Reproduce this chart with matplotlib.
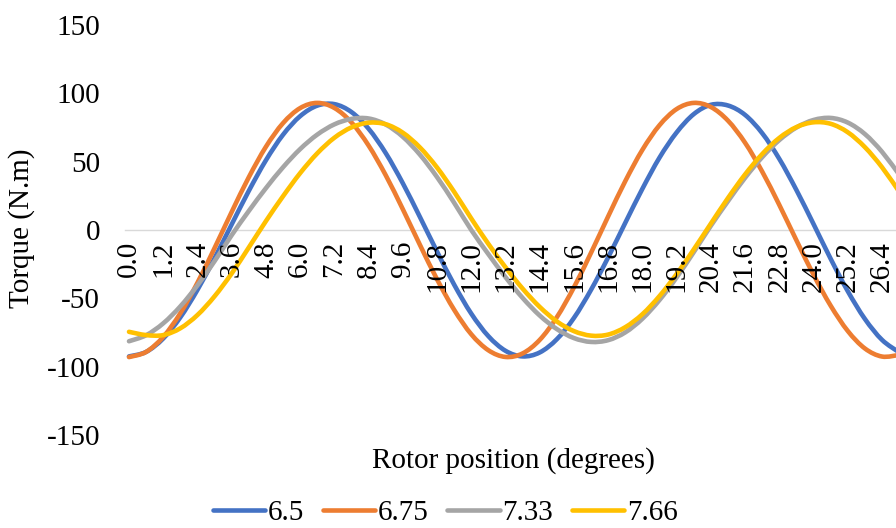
import matplotlib
matplotlib.use("Agg")
import matplotlib.pyplot as plt
from matplotlib.path import Path
from matplotlib.patches import PathPatch
from matplotlib.lines import Line2D

plt.rcParams['font.family'] = ['Liberation Serif', 'DejaVu Serif']
plt.rcParams['axes.unicode_minus'] = False

# rotor position (degrees), one category every 0.6
positions = [0.0, 0.6, 1.2, 1.8, 2.4, 3.0, 3.6, 4.2, 4.8, 5.4, 6.0, 6.6, 7.2, 7.8,
             8.4, 9.0, 9.6, 10.2, 10.8, 11.4, 12.0, 12.6, 13.2, 13.8, 14.4, 15.0,
             15.6, 16.2, 16.8, 17.4, 18.0, 18.6, 19.2, 19.8, 20.4, 21.0, 21.6,
             22.2, 22.8, 23.4, 24.0, 24.6, 25.2, 25.8, 26.4, 27.0]

t_650 = [-92.5, -89.2, -79.4, -63.9, -43.8, -20.6, 4.1, 28.6, 51.0, 69.7, 83.3, 91.0,
         92.1, 86.3, 74.1, 56.3, 34.2, 9.5, -15.8, -40.0, -61.2, -77.7, -88.4, -92.5,
         -89.6, -79.9, -64.3, -43.7, -20.0, 5.3, 30.2, 53.0, 71.4, 84.8, 91.6, 91.1,
         84.2, 70.8, 52.0, 29.2, 4.3, -21.1, -44.8, -65.1, -80.4, -89.5]

t_675 = [-93.0, -89.2, -78.2, -60.9, -38.6, -13.2, 13.2, 38.6, 60.9, 78.2, 89.2, 93.0,
         89.3, 78.7, 61.8, 40.1, 15.2, -10.9, -36.1, -58.4, -76.3, -88.0, -92.9, -90.3,
         -80.4, -63.8, -41.9, -16.6, 10.0, 35.8, 58.7, 76.7, 88.5, 93.0, 90.0, 80.0,
         63.8, 42.7, 18.3, -7.6, -32.8, -55.4, -73.9, -86.7, -92.6, -91.4]

t_733 = [-81.4, -77.0, -68.3, -55.9, -40.5, -22.8, -3.8, 13.9, 30.6, 45.9, 59.2, 69.8,
         77.3, 81.3, 81.6, 77.2, 68.2, 55.1, 38.7, 19.9, 0.0, -17.7, -34.5, -49.7,
         -62.6, -72.5, -79.1, -81.9, -80.6, -74.9, -64.9, -51.2, -34.7, -16.2, 3.1,
         21.1, 38.2, 53.3, 65.8, 75.0, 80.5, 82.0, 78.6, 70.2, 57.2, 40.6]

t_766 = [-74.5, -76.9, -76.9, -71.9, -62.2, -48.5, -31.8, -12.8, 6.5, 24.7, 41.6, 56.1,
         67.5, 75.1, 78.5, 77.4, 71.2, 60.4, 45.7, 27.9, 8.4, -10.2, -27.3, -42.9,
         -56.3, -66.9, -74.0, -77.3, -76.5, -71.1, -61.6, -48.3, -32.2, -14.2, 4.7,
         23.4, 40.7, 55.6, 67.4, 75.3, 78.8, 77.7, 71.5, 60.6, 45.9, 28.1]

series = [("6.5", t_650, "#4472C4"),
          ("6.75", t_675, "#ED7D31"),
          ("7.33", t_733, "#A5A5A5"),
          ("7.66", t_766, "#FFC000")]

tick_values = positions[::2]
tick_labels = ["%.1f" % v for v in tick_values]


def smooth_path(xs, ys):
    # Excel-like smoothed line: Catmull-Rom segments as cubic Beziers
    pts = list(zip(xs, ys))
    verts = [pts[0]]
    codes = [Path.MOVETO]
    n = len(pts)
    for i in range(n - 1):
        p0 = pts[i - 1] if i > 0 else pts[i]
        p1 = pts[i]
        p2 = pts[i + 1]
        p3 = pts[i + 2] if i + 2 < n else pts[i + 1]
        c1 = (p1[0] + (p2[0] - p0[0]) / 6, p1[1] + (p2[1] - p0[1]) / 6)
        c2 = (p2[0] - (p3[0] - p1[0]) / 6, p2[1] - (p3[1] - p1[1]) / 6)
        verts += [c1, c2, p2]
        codes += [Path.CURVE4] * 3
    return Path(verts, codes)


fs = 21
fig = plt.figure(figsize=(8.96, 5.28), dpi=100)
ax = fig.add_axes([125 / 896, 93 / 528, 771 / 896, 410 / 528])

handles = []
for name, vals, col in series:
    patch = PathPatch(smooth_path(positions, vals), facecolor='none', edgecolor=col,
                      lw=3.3, capstyle='round', joinstyle='round')
    ax.add_patch(patch)
    handles.append(Line2D([], [], color=col, lw=3.3, solid_capstyle='round', label=name))

ax.set_xlim(-0.14, 26.89)
ax.set_ylim(-150, 150)

for s in ['top', 'right', 'left']:
    ax.spines[s].set_visible(False)
ax.spines['bottom'].set_position(('data', 0))
ax.spines['bottom'].set_color('#D9D9D9')
ax.spines['bottom'].set_linewidth(1.0)
ax.spines['bottom'].set_zorder(0)

ax.set_yticks([-150, -100, -50, 0, 50, 100, 150])
ax.set_xticks(tick_values)
ax.set_xticklabels(tick_labels)
ax.tick_params(axis='x', length=0, pad=8, labelsize=fs, labelrotation=90)
ax.tick_params(axis='y', length=0, pad=18, labelsize=fs)

fig.text(513 / 896, 1 - 461 / 528, "Rotor position (degrees)", fontsize=fs,
         ha='center', va='center')
fig.text(22 / 896, 1 - 228 / 528, "Torque (N.m)", fontsize=fs,
         ha='center', va='center', rotation=90)

fig.legend(handles=handles, loc='center', bbox_to_anchor=(445 / 896, 1 - 513 / 528),
           ncol=4, frameon=False, fontsize=fs, handlelength=1.8, handletextpad=0.08,
           columnspacing=0.65, borderpad=0, borderaxespad=0)

fig.savefig("out.png", dpi=100)
